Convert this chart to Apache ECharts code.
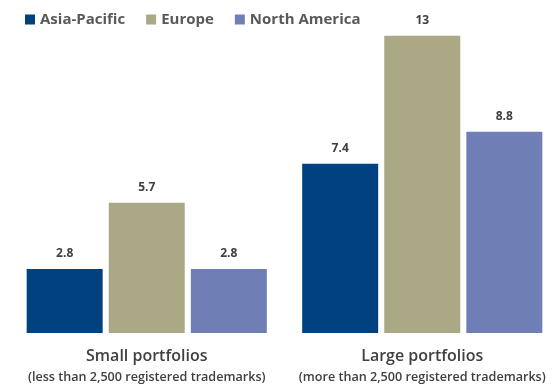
<!DOCTYPE html>
<html><head><meta charset="utf-8">
<script src="https://cdn.jsdelivr.net/npm/echarts@6/dist/echarts.min.js"></script>
<style>html,body{margin:0;padding:0;background:#fff}#c{width:553px;height:389px}</style>
</head><body><div id="c"></div>
<script>
const categories = ['Small portfolios', 'Large portfolios'];
const subLabels = ['(less than 2,500 registered trademarks)', '(more than 2,500 registered trademarks)'];
const seriesNames = ['Asia-Pacific', 'Europe', 'North America'];
const asiaPacific = [2.8, 7.4];
const europe = [5.7, 13];
const northAmerica = [2.8, 8.8];
const colors = ['#00417F', '#ABA886', '#6F7FB5'];
const values = [asiaPacific, europe, northAmerica];

const chart = echarts.init(document.getElementById('c'), null, {renderer: 'canvas'});
const font = '"Open Sans", "Noto Sans", sans-serif';
chart.setOption({
  animation: false,
  textStyle: {fontFamily: font},
  legend: {
    left: 20, top: 7, itemWidth: 10, itemHeight: 10, itemGap: 21,
    icon: 'rect',
    textStyle: {fontFamily: font, fontSize: 15, fontWeight: 'bold', color: '#595959'},
    data: seriesNames
  },
  grid: {left: 9, top: 13, width: 551, height: 320, containLabel: false, outerBoundsMode: 'none'},
  xAxis: {
    type: 'category', data: categories,
    axisLine: {show: false}, axisTick: {show: false},
    axisLabel: {
      margin: 12, interval: 0, hideOverlap: false,
      formatter: (v, i) => '{a|' + v + '}\n{b|' + subLabels[i] + '}',
      rich: {
        a: {fontFamily: font, fontSize: 16, fontWeight: 600, color: '#404040', lineHeight: 22},
        b: {fontFamily: font, fontSize: 12.6, fontWeight: 600, color: '#404040', lineHeight: 20}
      }
    }
  },
  yAxis: {type: 'value', min: 0, max: 14, show: false, splitLine: {show: false}},
  series: seriesNames.map((n, k) => ({
    name: n, type: 'bar', data: values[k],
    barWidth: 76, barGap: '8%',
    itemStyle: {color: colors[k]},
    label: {show: true, position: 'top', distance: 9, fontFamily: font, fontSize: 12, fontWeight: 'bold', color: '#404040'}
  }))
});
</script></body></html>
